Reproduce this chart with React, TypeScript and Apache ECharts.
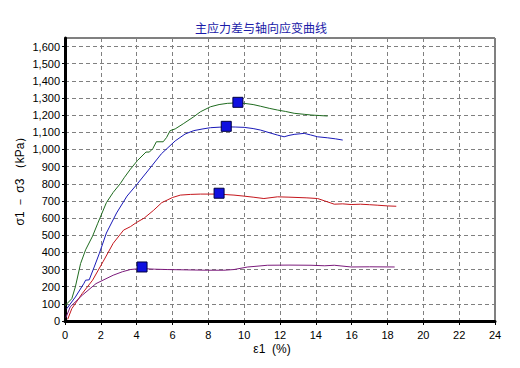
import React, { useEffect, useRef } from "react";
import * as echarts from "echarts";

const titleText = "主应力差与轴向应变曲线";
const yName = "σ1 － σ3 （kPa）";
const xName = "ε1  (%)";

const greenX = [0, 0.1, 0.38, 0.58, 0.87, 1.15, 1.54, 1.83, 2.31, 2.69, 3.08, 3.3, 3.65, 4.04, 4.52, 4.71, 4.9, 5.1, 5.48, 5.67, 5.87, 6.15, 6.6, 7.19, 7.56, 8.12, 8.6, 9.06, 9.65, 10.0, 10.5, 10.92, 11.4, 11.86, 12.3, 12.79, 13.35, 13.73, 14.2, 14.66];
const greenY = [90, 100, 130, 200, 335, 415, 495, 570, 690, 750, 800, 835, 885, 935, 985, 985, 1005, 1045, 1045, 1070, 1110, 1120, 1150, 1191, 1220, 1249, 1262, 1269, 1272, 1269, 1262, 1252, 1240, 1230, 1222, 1211, 1205, 1201, 1198, 1195];

const blueX = [0.1, 0.58, 1.06, 1.15, 1.35, 1.63, 1.92, 2.31, 2.88, 3.46, 4.04, 4.62, 5.38, 6.15, 6.7, 7.19, 7.7, 8.12, 8.6, 9.0, 9.5, 10.0, 10.5, 10.92, 11.4, 11.86, 12.23, 12.5, 12.79, 13.35, 13.7, 14.1, 14.66, 15.1, 15.5];
const blueY = [72, 140, 220, 238, 240, 315, 395, 513, 630, 728, 800, 875, 975, 1050, 1090, 1110, 1120, 1127, 1130, 1132, 1131, 1129, 1122, 1113, 1098, 1084, 1074, 1082, 1088, 1094, 1085, 1074, 1068, 1062, 1055];

const redX = [0.15, 0.38, 0.96, 1.54, 2.12, 2.69, 3.27, 3.65, 4.0, 4.42, 4.95, 5.4, 5.7, 6.0, 6.44, 7.0, 7.56, 8.5, 9.43, 9.99, 10.5, 11.1, 11.86, 12.5, 13.5, 14.1, 14.5, 15.03, 15.5, 15.97, 16.5, 17.0, 17.46, 18.0, 18.49];
const redY = [10, 72, 160, 238, 345, 453, 530, 550, 575, 600, 646, 690, 705, 720, 734, 738, 740, 740, 734, 728, 722, 714, 724, 722, 718, 714, 700, 681, 683, 679, 681, 678, 675, 671, 669];

const purpleX = [0.05, 0.29, 0.96, 1.73, 2.69, 3.2, 3.65, 4.23, 5.0, 5.7, 6.8, 7.94, 8.87, 9.43, 10.2, 10.55, 11.3, 12.5, 13.73, 14.5, 15.03, 15.97, 17.0, 18.4];
const purpleY = [20, 82, 150, 218, 267, 287, 300, 306, 302, 300, 298, 296, 296, 300, 315, 318, 325, 326, 325, 322, 325, 315, 316, 315];

const peakX = [9.65, 9.0, 8.6, 4.3];
const peakY = [1275, 1135, 745, 315];

const zip = (xs: number[], ys: number[]) => xs.map((x, i) => [x, ys[i]]);

export default function App() {
  const ref = useRef<HTMLDivElement>(null);
  useEffect(() => {
    if (!ref.current) return;
    const chart = echarts.init(ref.current, undefined, { renderer: "svg" });
    const labelFont = { fontFamily: "Liberation Sans", fontSize: 11, color: "#000" };
    const lineSeries = (data: number[][], color: string) => ({
      type: "line",
      data,
      symbol: "none",
      smooth: false,
      lineStyle: { color, width: 1 },
      z: 3,
    });
    chart.setOption({
      animation: false,
      backgroundColor: "#fff",
      title: {
        text: titleText,
        left: 256,
        top: 16,
        textAlign: "center",
        textStyle: { fontFamily: "Noto Sans CJK SC", fontSize: 12, fontWeight: "normal", color: "#1a1aa8" },
      },
      grid: { left: 65, right: 25, top: 38, bottom: 47, show: true, borderColor: "#000", borderWidth: 1, backgroundColor: "transparent" },
      xAxis: {
        type: "value",
        min: 0,
        max: 24,
        interval: 2,
        axisLine: { show: true, onZero: false, lineStyle: { color: "#000", width: 3 } },
        axisTick: { show: true, length: 4, lineStyle: { color: "#000" } },
        minorTick: { show: true, splitNumber: 4, length: 2, lineStyle: { color: "#000" } },
        axisLabel: { ...labelFont, margin: 8 },
        splitLine: { show: true, lineStyle: { color: "#808080", type: [4, 3], width: 1 } },
      },
      yAxis: {
        type: "value",
        min: 0,
        max: 1650,
        interval: 100,
        axisLine: { show: true, onZero: false, lineStyle: { color: "#000", width: 3 } },
        axisTick: { show: true, length: 3, lineStyle: { color: "#000" } },
        axisLabel: {
          ...labelFont,
          margin: 5,
          showMaxLabel: false,
          formatter: (v: number) => (v > 1650 ? "" : v.toLocaleString("en-US")),
        },
        splitLine: { show: true, lineStyle: { color: "#808080", type: [4, 3], width: 1 } },
      },
      graphic: [
        {
          type: "text",
          x: 20,
          y: 178,
          rotation: Math.PI / 2,
          style: { text: yName, fontFamily: "Liberation Sans", fontSize: 12, fill: "#000", align: "center", verticalAlign: "middle" },
        },
        {
          type: "text",
          x: 272,
          y: 349,
          style: { text: xName, fontFamily: "Liberation Sans", fontSize: 12, fill: "#000", align: "center", verticalAlign: "middle" },
        },
      ],
      series: [
        lineSeries(zip(greenX, greenY), "#1f6b1f"),
        lineSeries(zip(blueX, blueY), "#1a1ab8"),
        lineSeries(zip(redX, redY), "#c4161c"),
        lineSeries(zip(purpleX, purpleY), "#7b1a7b"),
        {
          type: "scatter",
          data: zip(peakX, peakY),
          symbol: "rect",
          symbolSize: 10,
          itemStyle: { color: "#1010e0", borderColor: "#000040", borderWidth: 1, opacity: 1 },
          z: 5,
        },
      ],
    });
    return () => chart.dispose();
  }, []);
  return <div ref={ref} style={{ position: "absolute", left: 0, top: 0, width: 520, height: 368 }} />;
}
